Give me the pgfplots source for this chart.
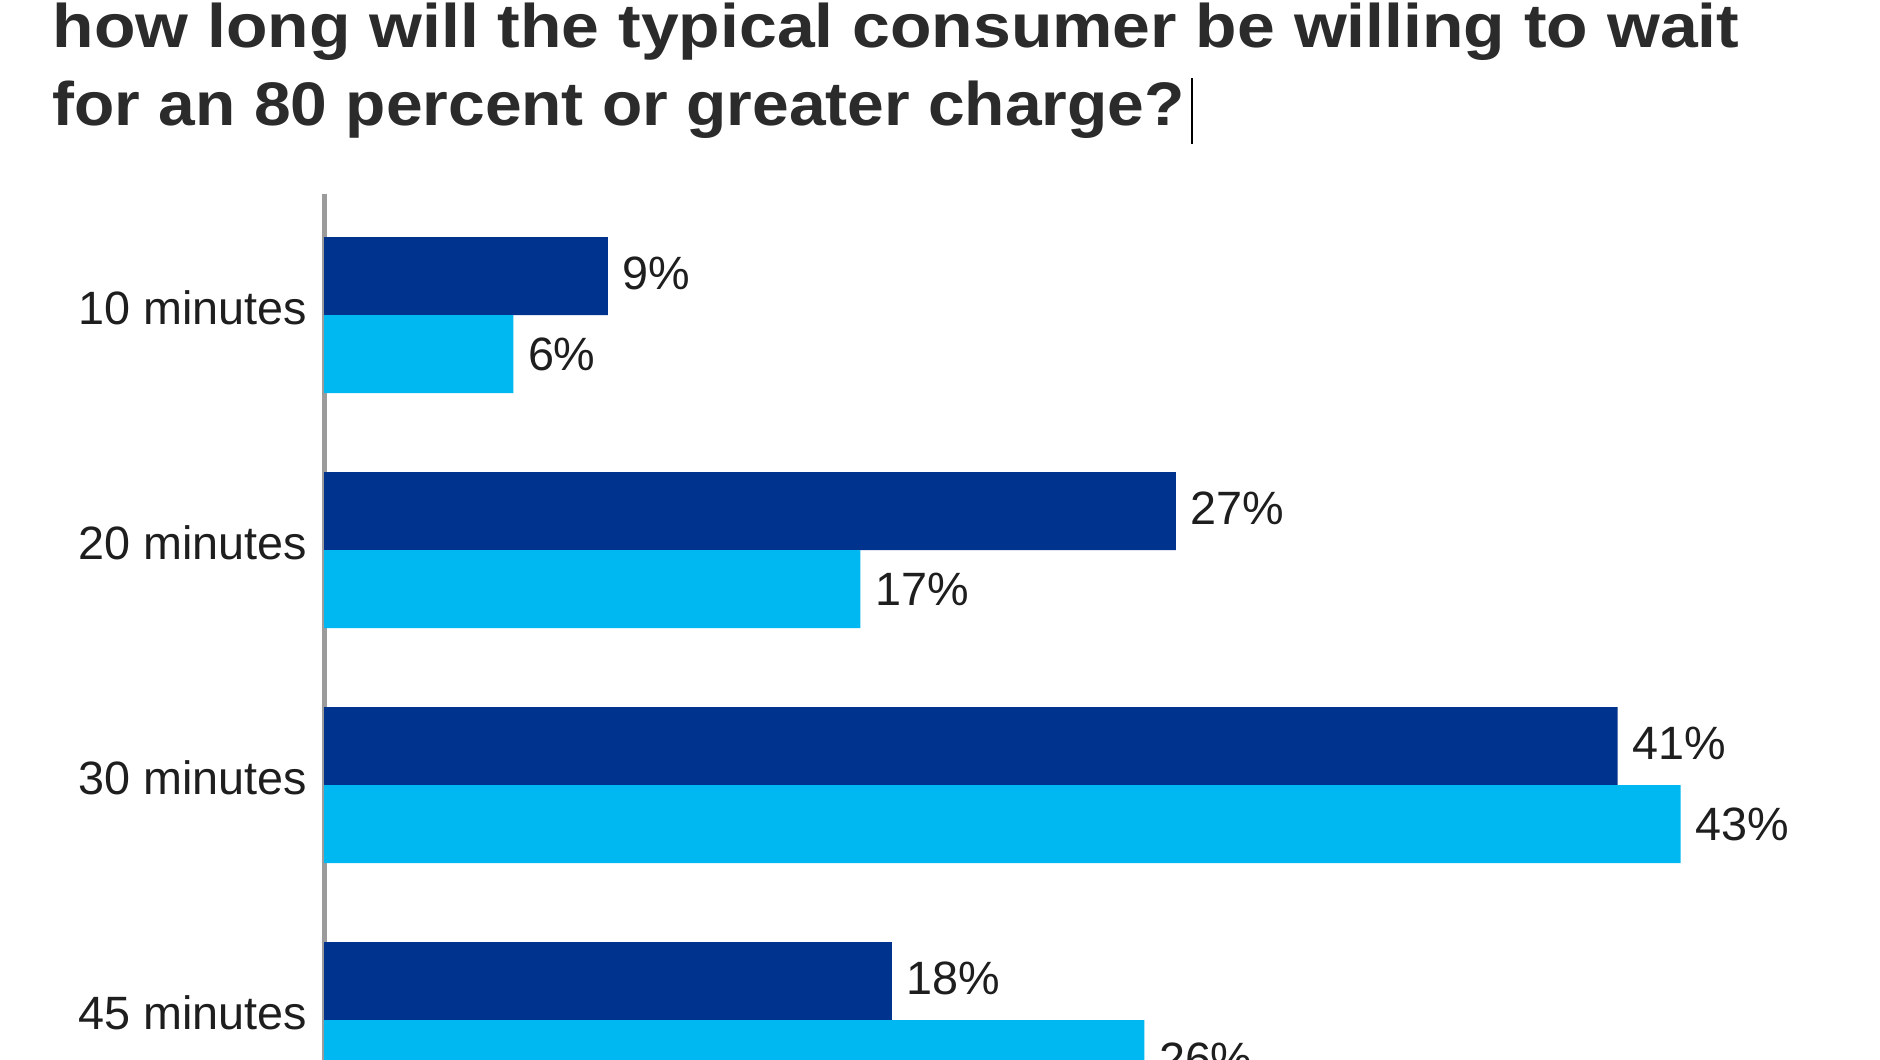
\documentclass[border=0pt]{standalone}
\usepackage{pgfplots}
\pgfplotsset{compat=1.18}
\usepackage{fontspec}
\setmainfont{Liberation Sans}
\definecolor{darkblue}{HTML}{00338D}
\definecolor{lightblue}{HTML}{00B8F1}
\definecolor{titlegray}{HTML}{2B2B2B}
\definecolor{axisgray}{HTML}{9B9B9B}
\definecolor{labelgray}{HTML}{1E1E1E}
\begin{document}
\begin{tikzpicture}
\useasboundingbox (0,0) rectangle (188mm,-106mm);
\clip (0,0) rectangle (188mm,-106mm);
\fill[white] (0,0) rectangle (188mm,-106mm);
\node[anchor=base west, inner sep=0, font=\fontsize{17.5}{21}\selectfont\bfseries, text=titlegray] at (5.2mm,-4.8mm) {\scalebox{1.104}[1]{how long will the typical consumer be willing to wait}};
\node[anchor=base west, inner sep=0, font=\fontsize{17.5}{21}\selectfont\bfseries, text=titlegray] at (5.2mm,-12.6mm) {\scalebox{1.072}[1]{for an 80 percent or greater charge?}\hspace{0.6mm}\textcolor{black}{\rule[-1.8mm]{0.25mm}{6.6mm}}};
\begin{axis}[
  at={(32.4mm,-19.4mm)}, anchor=north west,
  scale only axis, width=157.75mm, height=94.35mm,
  xmin=0, xmax=50, ymin=-0.5, ymax=3.515,
  xbar, bar width=7.8mm,
  axis x line=none, axis y line*=left,
  y axis line style={draw=axisgray, line width=0.5mm, -},
  ytick={0,1,2,3}, yticklabels={45 minutes,30 minutes,20 minutes,10 minutes},
  major tick length=0,
  yticklabel style={font=\fontsize{13.3}{16}\selectfont, text=labelgray, inner sep=0pt, xshift=-1.6mm, yshift=0.7mm},
  /pgf/number format/assume math mode=true,
  point meta=x,
  nodes near coords={\pgfmathprintnumber{\pgfplotspointmeta}\%},
  nodes near coords align={horizontal},
  every node near coord/.append style={font=\fontsize{13.3}{16}\selectfont, text=labelgray, anchor=west, inner sep=0pt, xshift=1.4mm},
  clip=false,
]
\addplot[fill=darkblue, draw=none, bar shift=3.9mm, every node near coord/.append style={yshift=0.3mm}] coordinates {(9,3) (27,2) (41,1) (18,0)};
\addplot[fill=lightblue, draw=none, bar shift=-3.9mm] coordinates {(6,3) (17,2) (43,1) (26,0)};
\end{axis}
\end{tikzpicture}
\end{document}
